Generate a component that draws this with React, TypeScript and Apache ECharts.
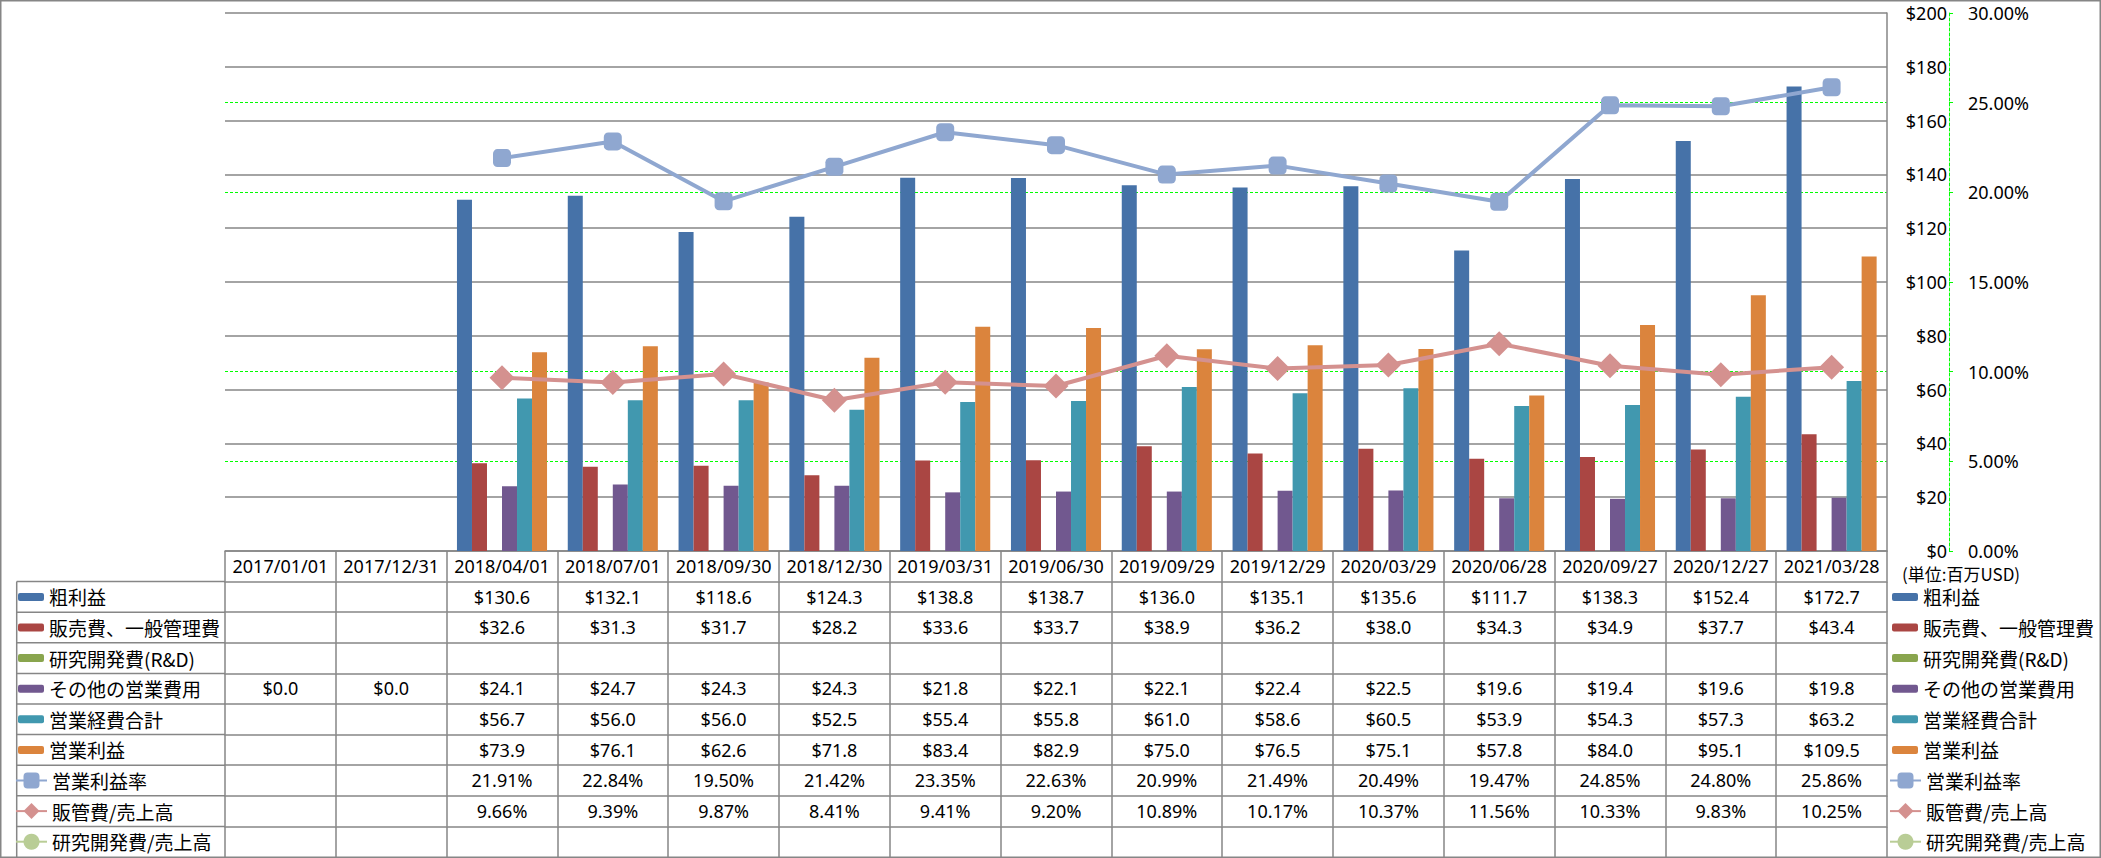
import React, { useEffect, useRef } from 'react';
import * as echarts from 'echarts';

// ---------- data ----------
const categories = [
  '2017/01/01', '2017/12/31', '2018/04/01', '2018/07/01', '2018/09/30',
  '2018/12/30', '2019/03/31', '2019/06/30', '2019/09/29', '2019/12/29',
  '2020/03/29', '2020/06/28', '2020/09/27', '2020/12/27', '2021/03/28',
];

const grossProfit = [null, null, 130.6, 132.1, 118.6, 124.3, 138.8, 138.7, 136.0, 135.1, 135.6, 111.7, 138.3, 152.4, 172.7];
const sgaExpense = [null, null, 32.6, 31.3, 31.7, 28.2, 33.6, 33.7, 38.9, 36.2, 38.0, 34.3, 34.9, 37.7, 43.4];
const rndExpense = [null, null, null, null, null, null, null, null, null, null, null, null, null, null, null];
const otherOpex = [0.0, 0.0, 24.1, 24.7, 24.3, 24.3, 21.8, 22.1, 22.1, 22.4, 22.5, 19.6, 19.4, 19.6, 19.8];
const totalOpex = [null, null, 56.7, 56.0, 56.0, 52.5, 55.4, 55.8, 61.0, 58.6, 60.5, 53.9, 54.3, 57.3, 63.2];
const operatingIncome = [null, null, 73.9, 76.1, 62.6, 71.8, 83.4, 82.9, 75.0, 76.5, 75.1, 57.8, 84.0, 95.1, 109.5];

// percentages
const operatingMargin = [null, null, 21.91, 22.84, 19.50, 21.42, 23.35, 22.63, 20.99, 21.49, 20.49, 19.47, 24.85, 24.80, 25.86];
const sgaRatio = [null, null, 9.66, 9.39, 9.87, 8.41, 9.41, 9.20, 10.89, 10.17, 10.37, 11.56, 10.33, 9.83, 10.25];
const rndRatio = [null, null, null, null, null, null, null, null, null, null, null, null, null, null, null];

const barNames = ['粗利益', '販売費、一般管理費', '研究開発費(R&D)', 'その他の営業費用', '営業経費合計', '営業利益'];
const barValues = [grossProfit, sgaExpense, rndExpense, otherOpex, totalOpex, operatingIncome];
const lineNames = ['営業利益率', '販管費/売上高', '研究開発費/売上高'];
const lineValues = [operatingMargin, sgaRatio, rndRatio];

const leftAxis = { min: 0, max: 200, interval: 20 };
const rightAxis = { min: 0, max: 0.3, interval: 0.05 };
const unitLabel = '(単位:百万USD)';

// ---------- styles ----------
const barColors = ['#4672A8', '#AA4643', '#89A54E', '#71588F', '#4198AF', '#DB843D'];
const lineColors = ['#8FA7D0', '#D4918F', '#B9CD96'];
const lineSymbols = ['roundRect', 'diamond', 'circle'];
const lineSymbolSizes = [18, 25, 16];

const GRAY = '#868686';
const GREEN = '#00FF00';
const NONE = 'rgba(0,0,0,0)';
const NUM_FONT = "'Noto Sans', 'Noto Sans CJK JP', sans-serif";
const CJK_FONT = "'Noto Sans CJK JP', 'Noto Sans', sans-serif";

const W = 2101;
const H = 858;
const GRID_LEFT = 225;
const GRID_RIGHT = 1887;
const GRID_TOP = 13;
const AXIS_Y = 551;
const ROW_H = 30.6;
const TABLE_LEFT = 16.7;

const fmtMoney = (v: number | null) => (v == null ? '' : '$' + v.toFixed(1));
const fmtPct = (v: number | null) => (v == null ? '' : v.toFixed(2) + '%');

export default function App() {
  const ref = useRef<HTMLDivElement>(null);

  useEffect(() => {
    if (!ref.current) return;
    const chart = echarts.init(ref.current, undefined, { renderer: 'svg' });

    const tableRows: string[][] = [
      ...barValues.map((arr) => arr.map(fmtMoney)),
      ...lineValues.map((arr) => arr.map(fmtPct)),
    ];

    // right-axis split line colours: hide those that coincide with a left-axis grid line
    const rightTickCount = Math.round((rightAxis.max - rightAxis.min) / rightAxis.interval) + 1;
    const leftTickCount = Math.round((leftAxis.max - leftAxis.min) / leftAxis.interval);
    const rightSplitColors: string[] = [];
    for (let i = 0; i < rightTickCount; i++) {
      const frac = i / (rightTickCount - 1);
      const onLeft = Math.abs(frac * leftTickCount - Math.round(frac * leftTickCount)) < 1e-6;
      rightSplitColors.push(onLeft ? NONE : GREEN);
    }

    const makeXAxis = (data: string[], k: number) => ({
      type: 'category',
      gridIndex: 0,
      position: 'bottom',
      offset: k * ROW_H,
      data,
      boundaryGap: true,
      axisLine: { show: true, onZero: false, lineStyle: { color: GRAY, width: 1.5 } },
      axisTick: { show: true, length: ROW_H, interval: 0, alignWithLabel: false, lineStyle: { color: GRAY, width: 1.5 } },
      axisLabel: { show: true, interval: 0, margin: 6, fontSize: 18, color: '#000', fontFamily: NUM_FONT },
      splitLine: { show: false },
      axisPointer: { show: false },
    });

    const xAxes = [makeXAxis(categories, 0), ...tableRows.map((row, i) => makeXAxis(row, i + 1))];

    const barSeries = barNames.map((name, i) => ({
      name,
      type: 'bar',
      xAxisIndex: 0,
      yAxisIndex: 0,
      data: barValues[i],
      barGap: '0%',
      barCategoryGap: '18.7%',
      itemStyle: { color: barColors[i] },
    }));

    const lineSeries = lineNames.map((name, i) => ({
      name,
      type: 'line',
      xAxisIndex: 0,
      yAxisIndex: 1,
      data: lineValues[i].map((v) => (v == null ? null : v / 100)),
      symbol: lineSymbols[i],
      symbolSize: lineSymbolSizes[i],
      showAllSymbol: true,
      lineStyle: { color: lineColors[i], width: 4 },
      itemStyle: { color: lineColors[i] },
      z: 5,
    }));

    const legendBase = {
      orient: 'vertical',
      padding: 0,
      selectedMode: false,
      textStyle: { fontSize: 19, lineHeight: 20, color: '#000', fontFamily: CJK_FONT },
    };
    const barLegendTop = AXIS_Y + ROW_H + (ROW_H - 20) / 2;
    const lineLegendTop = AXIS_Y + 7 * ROW_H + (ROW_H - 20) / 2;

    const legends = [
      { ...legendBase, left: 18, top: barLegendTop, itemWidth: 26, itemHeight: 8, itemGap: ROW_H - 20, data: barNames },
      { ...legendBase, left: 15, top: lineLegendTop, itemWidth: 31, itemHeight: 20, itemGap: ROW_H - 20, data: lineNames },
      { ...legendBase, left: 1892, top: barLegendTop, itemWidth: 26, itemHeight: 8, itemGap: ROW_H - 20, data: barNames },
      { ...legendBase, left: 1889, top: lineLegendTop, itemWidth: 31, itemHeight: 20, itemGap: ROW_H - 20, data: lineNames },
    ];

    const frame: any[] = [
      {
        type: 'rect',
        shape: { x: 0.75, y: 0.75, width: W - 1.5, height: H - 1.5 },
        style: { fill: 'none', stroke: GRAY, lineWidth: 1.5 },
        silent: true,
      },
      {
        type: 'line',
        shape: { x1: TABLE_LEFT, y1: AXIS_Y + ROW_H, x2: TABLE_LEFT, y2: H },
        style: { stroke: GRAY, lineWidth: 1.5 },
        silent: true,
      },
    ];
    for (let k = 1; k <= 9; k++) {
      const y = AXIS_Y + k * ROW_H;
      frame.push({
        type: 'line',
        shape: { x1: TABLE_LEFT, y1: y, x2: GRID_LEFT, y2: y },
        style: { stroke: GRAY, lineWidth: 1.5 },
        silent: true,
      });
    }
    frame.push({
      type: 'text',
      x: 1902,
      y: AXIS_Y + 22,
      style: { text: unitLabel, fontSize: 17, fill: '#000', fontFamily: CJK_FONT, textVerticalAlign: 'middle' },
      silent: true,
    });

    const option: any = {
      animation: false,
      backgroundColor: '#fff',
      grid: { left: GRID_LEFT, top: GRID_TOP, width: GRID_RIGHT - GRID_LEFT, height: AXIS_Y - GRID_TOP, containLabel: false },
      legend: legends,
      xAxis: xAxes,
      yAxis: [
        {
          type: 'value',
          position: 'right',
          min: leftAxis.min,
          max: leftAxis.max,
          interval: leftAxis.interval,
          axisLine: { show: true, lineStyle: { color: GRAY, width: 1.5 } },
          axisTick: { show: false },
          axisLabel: { align: 'right', margin: 60, fontSize: 18, color: '#000', fontFamily: NUM_FONT, formatter: (v: number) => '$' + v },
          splitLine: { show: true, lineStyle: { color: GRAY, width: 1.5 } },
        },
        {
          type: 'value',
          position: 'right',
          offset: 62,
          min: rightAxis.min,
          max: rightAxis.max,
          interval: rightAxis.interval,
          axisLine: { show: true, lineStyle: { color: GREEN, width: 1, type: [3, 2] } },
          axisTick: { show: true, length: 4, lineStyle: { color: GREEN, width: 1 } },
          axisLabel: { margin: 19, fontSize: 18, color: '#000', fontFamily: NUM_FONT, formatter: (v: number) => (v * 100).toFixed(2) + '%' },
          splitLine: { show: true, lineStyle: { color: rightSplitColors, width: 1, type: [3, 2] } },
        },
      ],
      series: [...barSeries, ...lineSeries],
      graphic: frame,
    };

    chart.setOption(option);
    return () => chart.dispose();
  }, []);

  return (
    <div
      ref={ref}
      style={{ position: 'absolute', left: 0, top: 0, width: W, height: H, background: '#fff' }}
    />
  );
}
